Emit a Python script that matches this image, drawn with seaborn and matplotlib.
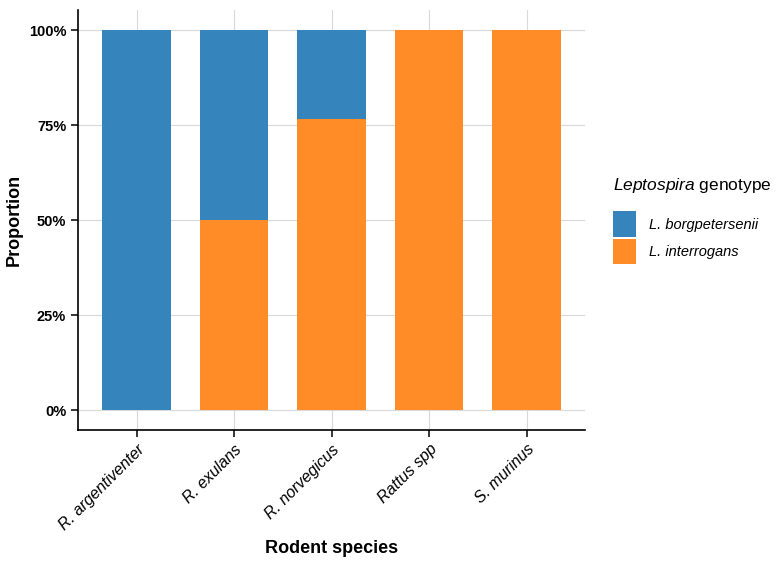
import pandas as pd
import matplotlib
matplotlib.use("Agg")
import matplotlib.pyplot as plt
import matplotlib.ticker as mticker
import seaborn as sns

species = ["R. argentiventer", "R. exulans", "R. norvegicus", "Rattus spp", "S. murinus"]
genotypes = ["L. borgpetersenii", "L. interrogans"]
borg = [1.0, 0.5, 0.235, 0.0, 0.0]
inter = [0.0, 0.5, 0.765, 1.0, 1.0]
colors = ["#3584BB", "#FF8C26"]

df = pd.DataFrame({
    "species": species * 2,
    "genotype": [genotypes[0]] * 5 + [genotypes[1]] * 5,
    "prop": borg + inter,
})
df["species"] = pd.Categorical(df["species"], categories=species, ordered=True)

sns.set_style("white")
plt.rcParams["font.family"] = ["Liberation Sans", "DejaVu Sans"]
plt.rcParams["mathtext.fontset"] = "custom"
plt.rcParams["mathtext.it"] = "Liberation Sans:italic"
plt.rcParams["mathtext.rm"] = "Liberation Sans"
plt.rcParams["text.color"] = "black"
plt.rcParams["axes.labelcolor"] = "black"

fig = plt.figure(figsize=(7.77, 5.62), dpi=100)
ax = fig.add_axes([0.1004, 0.2349, 0.6525, 0.747])

sns.histplot(data=df, x="species", hue="genotype", weights="prop",
             hue_order=genotypes, palette=colors, multiple="fill",
             discrete=True, shrink=0.7, alpha=1, linewidth=0,
             ax=ax, legend=True)

ax.set_xlim(-0.6, 4.6)
ax.set_ylim(-0.0526, 1.0526)
ax.set_yticks([0, 0.25, 0.5, 0.75, 1.0])
ax.yaxis.set_major_formatter(mticker.PercentFormatter(1.0, decimals=0))
ax.set_xticks(range(len(species)))
ax.set_xticklabels(species, rotation=45, ha="right", rotation_mode="anchor",
                   style="italic", fontsize=11.5)
for lab in ax.get_yticklabels():
    lab.set_fontweight("bold")
    lab.set_fontsize(10.5)

ax.grid(True, color="#d9d9d9", linewidth=0.8)
ax.set_axisbelow(True)
for s in ["top", "right"]:
    ax.spines[s].set_visible(False)
for s in ["left", "bottom"]:
    ax.spines[s].set_color("black")
    ax.spines[s].set_linewidth(1.2)
ax.tick_params(axis="both", which="major", direction="out", length=5,
               width=1.1, color="black", labelcolor="black", bottom=True, left=True)

ax.set_xlabel("Rodent species", fontsize=13, fontweight="bold", labelpad=5)
ax.set_ylabel("Proportion", fontsize=13, fontweight="bold", labelpad=4)

leg = ax.get_legend()
handles = leg.legend_handles
leg.remove()
leg = ax.legend(handles, genotypes, title=r"$\it{Leptospira}$ genotype",
                loc="center left", bbox_to_anchor=(1.035, 0.5), frameon=False,
                prop={"style": "italic", "size": 10.5}, title_fontsize=12.5,
                handlelength=1.6, handleheight=2.3, handletextpad=0.9,
                labelspacing=0.15, alignment="left", borderaxespad=0.3)
leg._legend_box.sep = 12

fig.savefig("out.png", dpi=100)
